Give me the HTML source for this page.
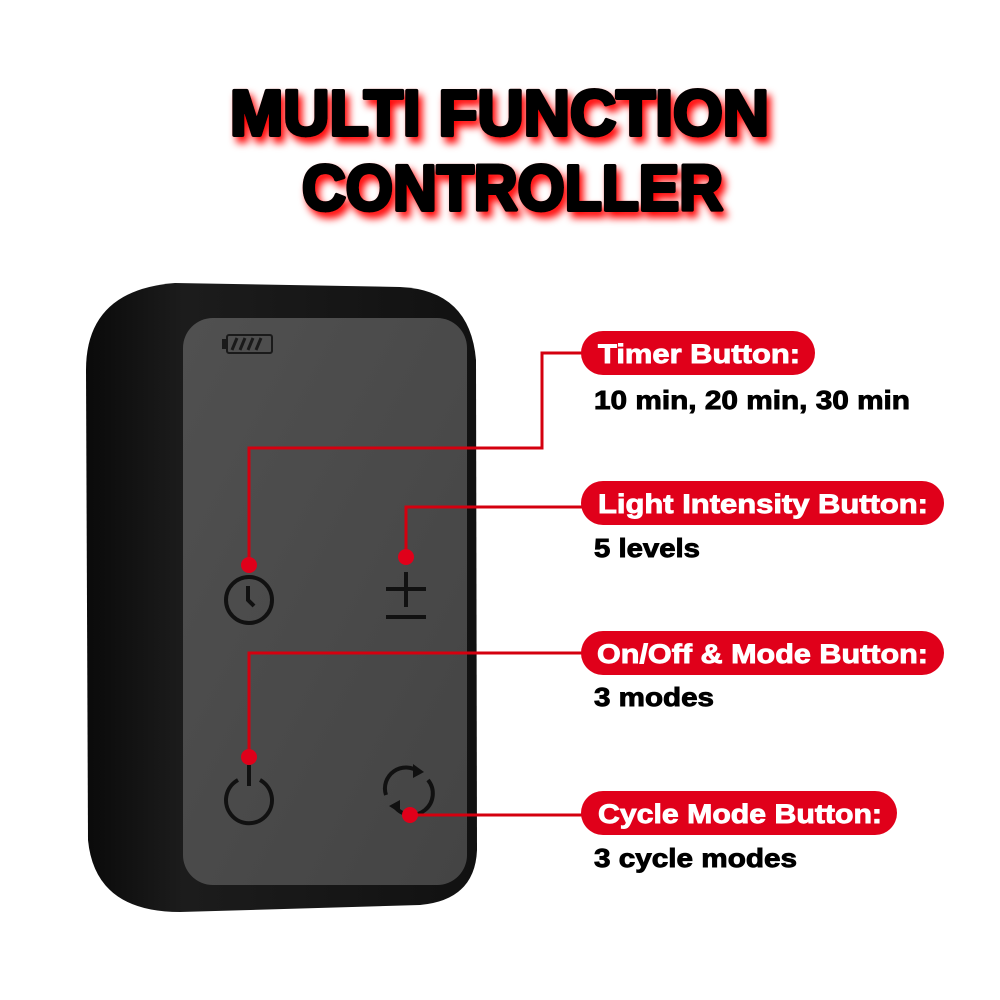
<!DOCTYPE html>
<html><head><meta charset="utf-8"><style>
html,body{margin:0;padding:0;background:#fff;}
svg{display:block}
</style></head><body>
<svg width="1000" height="1000" viewBox="0 0 1000 1000" xmlns="http://www.w3.org/2000/svg">
<defs>
<filter id="glow" x="-20%" y="-40%" width="140%" height="180%">
<feGaussianBlur in="SourceAlpha" stdDeviation="4" result="b"/>
<feOffset dx="4" dy="6" in="b" result="o"/>
<feFlood flood-color="#ff0000" flood-opacity="1"/>
<feComposite in2="o" operator="in" result="g"/>
<feMerge><feMergeNode in="g"/><feMergeNode in="SourceGraphic"/></feMerge>
</filter>
<linearGradient id="face" x1="0" y1="0" x2="1" y2="1">
<stop offset="0" stop-color="#505050"/><stop offset="1" stop-color="#444"/>
</linearGradient>
<linearGradient id="body" x1="0" y1="0" x2="1" y2="0">
<stop offset="0" stop-color="#0a0a0a"/><stop offset="0.25" stop-color="#1c1c1c"/><stop offset="1" stop-color="#111"/>
</linearGradient>
</defs>
<g filter="url(#glow)" font-family="Liberation Sans, sans-serif" font-weight="bold" fill="#000" stroke="#000" stroke-width="4" stroke-linejoin="round">
<text x="230" y="135" font-size="64" textLength="539" lengthAdjust="spacingAndGlyphs">MULTI FUNCTION</text>
<text x="302" y="210" font-size="64" textLength="421" lengthAdjust="spacingAndGlyphs">CONTROLLER</text>
</g>
<!-- device -->
<path d="M175 283 L400 287 Q470 290 476 360 L477 850 Q475 900 420 905 L180 912 Q95 912 88 840 L86 370 Q86 290 175 283 Z" fill="url(#body)"/>
<rect x="183" y="318" width="284" height="567" rx="30" fill="url(#face)"/>
<!-- battery -->
<rect x="227" y="335" width="45" height="18" rx="2" fill="none" stroke="#1a1a1a" stroke-width="2"/>
<rect x="222" y="339" width="5" height="10" fill="#1a1a1a"/>
<g stroke="#1a1a1a" stroke-width="3"><line x1="232" y1="350" x2="237" y2="338"/><line x1="240" y1="350" x2="245" y2="338"/><line x1="248" y1="350" x2="253" y2="338"/><line x1="256" y1="350" x2="261" y2="338"/></g>
<!-- timer icon -->
<circle cx="249" cy="600" r="23" fill="none" stroke="#111" stroke-width="4"/>
<path d="M248 586 V600 L254 606" fill="none" stroke="#111" stroke-width="4"/>
<!-- +- -->
<g stroke="#111" stroke-width="4"><line x1="406" y1="572" x2="406" y2="607"/><line x1="386" y1="589" x2="426" y2="589"/><line x1="386" y1="617" x2="426" y2="617"/></g>
<!-- power -->
<path d="M238 780 A23 23 0 1 0 260 780" fill="none" stroke="#111" stroke-width="4"/>
<line x1="249" y1="765" x2="249" y2="786" stroke="#111" stroke-width="4"/>
<!-- cycle -->
<path d="M386 795 A21 21 0 0 1 419 772" fill="none" stroke="#111" stroke-width="4"/>
<path d="M428 780 A21 21 0 0 1 395 807" fill="none" stroke="#111" stroke-width="4"/>
<polygon points="413,764 424,772 413,778" fill="#111"/>
<polygon points="400,800 389,806 400,813" fill="#111"/>
<!-- connectors -->
<g fill="none" stroke="#d4000f" stroke-width="3">
<polyline points="249,565 249,448 542,448 542,353 585,353"/>
<polyline points="406,557 406,507 585,507"/>
<polyline points="249,757 249,653 585,653"/>
<polyline points="410,815 585,815"/>
</g>
<g fill="#e0001a"><circle cx="249" cy="565" r="8"/><circle cx="406" cy="557" r="8"/><circle cx="249" cy="757" r="8"/><circle cx="410" cy="815" r="8"/></g>
<!-- pills -->
<g fill="#e0001a">
<rect x="581" y="331" width="234" height="44" rx="22"/>
<rect x="581" y="481" width="363" height="44" rx="22"/>
<rect x="581" y="631" width="363" height="44" rx="22"/>
<rect x="581" y="791" width="316" height="44" rx="22"/>
</g>
<g font-family="Liberation Sans, sans-serif" font-weight="bold" font-size="27" fill="#fff" stroke="#fff" stroke-width="0.9">
<text x="598" y="363" textLength="202" lengthAdjust="spacingAndGlyphs">Timer Button:</text>
<text x="598" y="513" textLength="330" lengthAdjust="spacingAndGlyphs">Light Intensity Button:</text>
<text x="597" y="663" textLength="331" lengthAdjust="spacingAndGlyphs">On/Off &amp; Mode Button:</text>
<text x="598" y="823" textLength="284" lengthAdjust="spacingAndGlyphs">Cycle Mode Button:</text>
</g>
<g font-family="Liberation Sans, sans-serif" font-weight="bold" font-size="26" fill="#000" stroke="#000" stroke-width="0.9">
<text x="594" y="409" textLength="316" lengthAdjust="spacingAndGlyphs">10 min, 20 min, 30 min</text>
<text x="594" y="557" textLength="106" lengthAdjust="spacingAndGlyphs">5 levels</text>
<text x="594" y="706" textLength="120" lengthAdjust="spacingAndGlyphs">3 modes</text>
<text x="594" y="867" textLength="203" lengthAdjust="spacingAndGlyphs">3 cycle modes</text>
</g>
</svg>
</body></html>
